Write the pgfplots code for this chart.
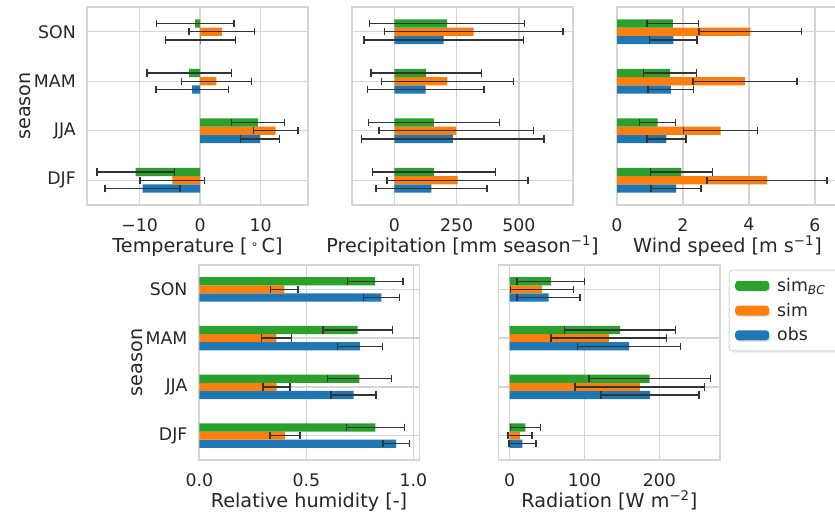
\documentclass[border=0pt]{standalone}
\usepackage{fontspec}
\setmainfont{DejaVu Sans}
\usepackage{pgfplots}
\usepackage{pgfplotstable}
\usetikzlibrary{shadows}
\pgfplotsset{compat=1.18}

\definecolor{cobs}{HTML}{1F77B4}
\definecolor{csim}{HTML}{FF7F0E}
\definecolor{cbc}{HTML}{2CA02C}
\definecolor{gridc}{HTML}{D5D5D5}
\definecolor{txtc}{HTML}{262626}
\definecolor{errc}{HTML}{333333}

\newcommand\ticksize{\fontsize{13}{15.6}\selectfont}
\newcommand\labsize{\fontsize{14.4}{17}\selectfont}

% seasonal means and standard deviations; pos: 0 DJF, 1 JJA, 2 MAM, 3 SON
\pgfplotstableread{
pos obs   eobs  sim   esim  bc     ebc
0   -9.5  6.2   -4.6  5.3   -10.65 6.4
1   9.9   3.2   12.5  3.7   9.6    4.4
2   -1.3  6.0   2.7   5.8   -1.8   7.0
3   0.1   5.8   3.6   5.4   -0.8   6.4
}\tabT
\pgfplotstableread{
pos obs   eobs  sim   esim  bc     ebc
0   149   223   254   283   159    246
1   235   366   248   310   159    262
2   126   233   213   265   128    222
3   198   320   318   358   212    311
}\tabP
\pgfplotstableread{
pos obs   eobs  sim   esim  bc     ebc
0   1.79  0.76  4.55  1.82  1.95   0.94
1   1.50  0.59  3.14  1.12  1.23   0.55
2   1.63  0.69  3.88  1.58  1.61   0.80
3   1.71  0.72  4.04  1.55  1.69   0.78
}\tabW
\pgfplotstableread{
pos obs   eobs   sim   esim   bc     ebc
0   0.920 0.0625 0.400 0.070  0.823  0.135
1   0.721 0.105  0.361 0.0625 0.748  0.149
2   0.750 0.105  0.360 0.070  0.740  0.162
3   0.851 0.085  0.397 0.065  0.822  0.129
}\tabH
\pgfplotstableread{
pos obs   eobs  sim   esim  bc     ebc
0   17    18    14    16    21     20
1   187.5 65.5  174   86.5  187    81
2   159.5 69    132.5 77    147.5  74
3   52    42    43    42    55     45
}\tabR

\pgfplotsset{
  panel/.style={
    scale only axis,
    height=148.5pt, width=165.75pt,
    ymin=-0.5, ymax=3.5, ytick={0,1,2,3},
    yticklabels={,,,},
    xmajorgrids, ymajorgrids,
    major grid style={draw=gridc, line width=1.1pt},
    axis line style={draw=gridc, line width=1.1pt},
    major tick length=0pt,
    tick label style={font=\ticksize, text=txtc},
    xticklabel style={inner sep=0pt, anchor=north, yshift=-9.75pt, text depth=0pt},
    yticklabel style={inner sep=0pt, anchor=east, xshift=-8.25pt},
    label style={font=\labsize, text=txtc, inner sep=0pt},
    x label style={at={([yshift=-35.5pt]axis description cs:0.5,0)}, anchor=base},
    y label style={at={([xshift=-46pt]axis description cs:0,0.5)}, anchor=center},
  },
  seasons/.style={yticklabels={DJF,JJA,MAM,SON}, ylabel={season}},
  onebar/.style={xbar, bar width=0.1667, bar shift=0pt, fill=#1, draw=none,
    legend image code/.code={\fill[#1] (0pt,-3.75pt) rectangle (25.5pt,3.75pt);},
    error bars/.cd, x dir=both, x explicit,
      error bar style={line width=1.1pt, color=errc, solid},
      error mark options={line width=1.1pt, color=errc, mark size=2.75pt, rotate=90}},
}

% three bars per season: obs below, sim centred, bias-corrected sim above
\newcommand\threebars[1]{%
  \addplot[onebar=cobs] table[x=obs, y expr=\thisrow{pos}-0.1667, x error=eobs] {#1};
  \addplot[onebar=csim] table[x=sim, y expr=\thisrow{pos}, x error=esim] {#1};
  \addplot[onebar=cbc]  table[x=bc,  y expr=\thisrow{pos}+0.1667, x error=ebc] {#1};
}

\begin{document}
\begin{tikzpicture}
\path[use as bounding box] (0,0) rectangle (626.25pt,-386.25pt);

% temperature
\begin{axis}[panel, seasons, at={(65.25pt,-153.75pt)}, anchor=south west,
  xmin=-18.7, xmax=17.85, xtick={-10,0,10}, xticklabels={−10,0,10},
  xlabel={Temperature [\,\raisebox{0.35ex}{\fontsize{9}{9}\selectfont∘}\,C]}]
\threebars{\tabT}
\end{axis}

% precipitation
\begin{axis}[panel, at={(264pt,-153.75pt)}, anchor=south west,
  xmin=-169.7, xmax=717, xtick={0,250,500}, xticklabels={0,250,500},
  xlabel={Precipitation [mm season\textsuperscript{−1}]}]
\threebars{\tabP}
\end{axis}

% wind speed
\begin{axis}[panel, at={(462.75pt,-153.75pt)}, anchor=south west,
  xmin=0, xmax=6.7, xtick={0,2,4,6}, xticklabels={0,2,4,6},
  xlabel={Wind speed [m s\textsuperscript{−1}]}]
\threebars{\tabW}
\end{axis}

% relative humidity
\begin{axis}[panel, seasons, at={(149pt,-345pt)}, anchor=south west,
  height=146.25pt, width=165.5pt,
  xmin=-0.003, xmax=1.028, xtick={0,0.5,1}, xticklabels={0.0,0.5,1.0},
  xlabel={Relative humidity [-]}]
\threebars{\tabH}
\end{axis}

% radiation, with the shared legend
\begin{axis}[panel, at={(374pt,-345pt)}, anchor=south west,
  height=146.25pt, width=166pt,
  xmin=-14.7, xmax=281, xtick={0,100,200}, xticklabels={0,100,200},
  xlabel={Radiation [W m\textsuperscript{−2}]},
  reverse legend,
  legend cell align=left,
  legend style={at={(1,1)}, anchor=north west, xshift=6.5pt, yshift=-3.5pt,
    draw=gridc, line width=0.8pt, rounded corners=2.5pt, fill=white,
    drop shadow={opacity=0.18, shadow xshift=1.2pt, shadow yshift=-1.2pt},
    font=\ticksize, text=txtc, row sep=3.2pt, inner xsep=4.5pt, inner ysep=4pt,
    nodes={inner xsep=6pt}}]
\threebars{\tabR}
\legend{obs, sim, sim\textsubscript{\itshape BC}\hspace*{10pt}}
\end{axis}
\end{tikzpicture}
\end{document}
